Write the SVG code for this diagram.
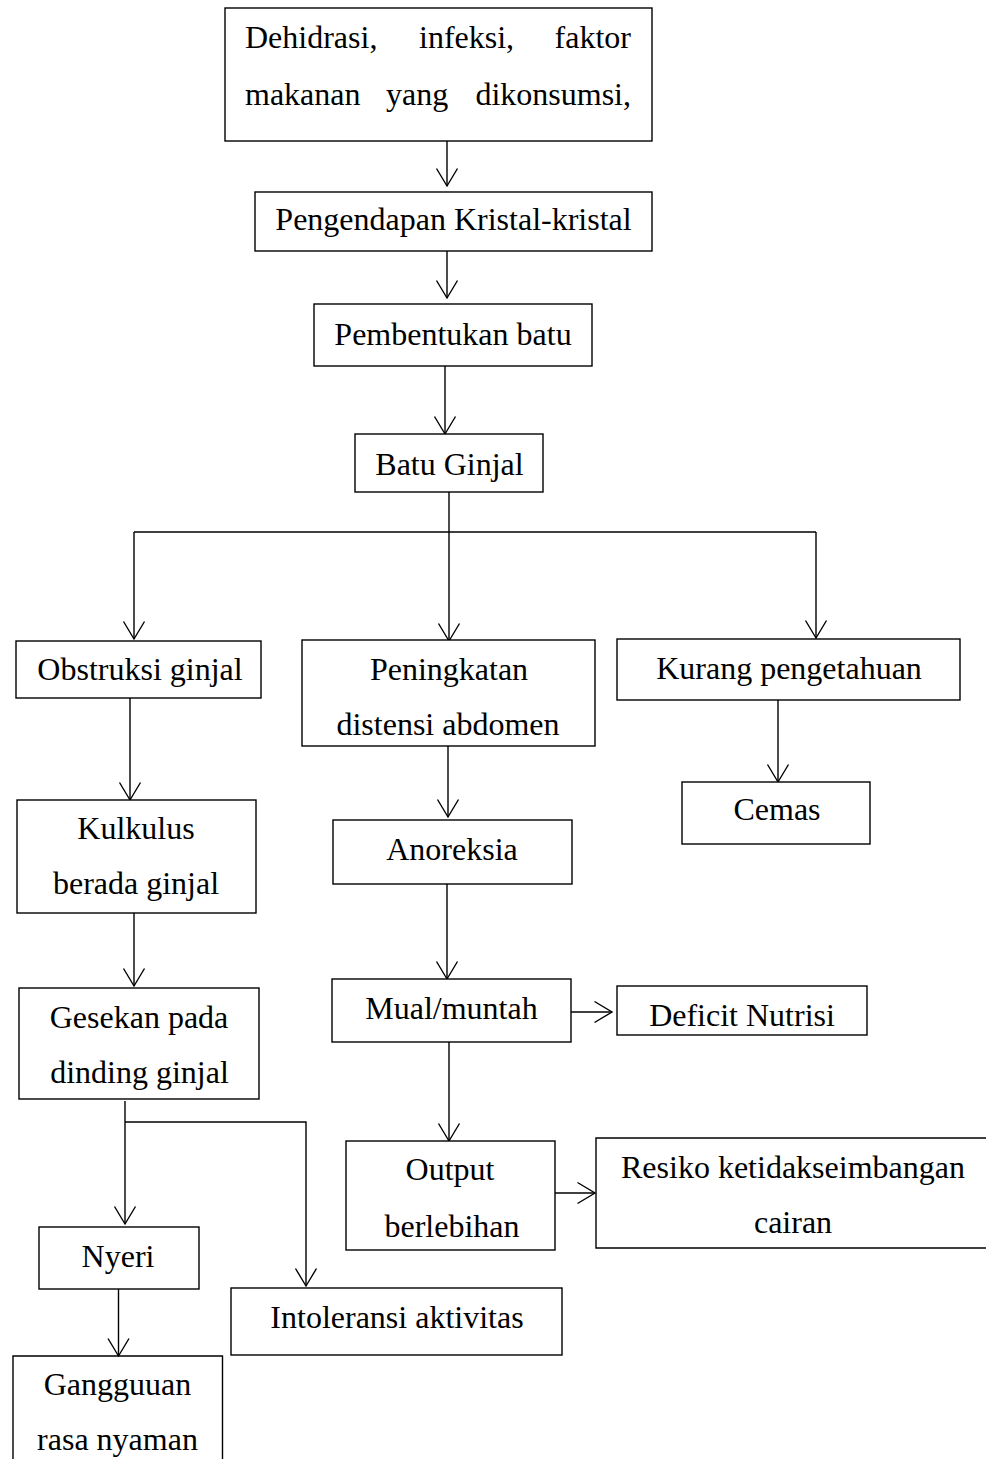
<svg xmlns="http://www.w3.org/2000/svg" width="986" height="1459" viewBox="0 0 986 1459">
<style>
.box{fill:#fff;stroke:#000;stroke-width:1.4}
.t{font-family:"Liberation Serif","Times New Roman",serif;font-size:32px;fill:#000}
.c{text-anchor:middle}
.e{text-anchor:end}
.ln{fill:none;stroke:#000;stroke-width:1.4}
</style>
<defs>
<marker id="ah" markerUnits="userSpaceOnUse" markerWidth="22" markerHeight="24" viewBox="0 0 22 24" refX="19" refY="12" orient="auto" overflow="visible">
<path d="M1.5,1.5 L19,12 L1.5,22.5" fill="none" stroke="#000" stroke-width="1.4"/>
</marker>
</defs>
<rect width="986" height="1459" fill="#fff"/>
<g id="connectors">
<path class="ln" d="M447,141 V186" marker-end="url(#ah)"/>
<path class="ln" d="M447,251 V298" marker-end="url(#ah)"/>
<path class="ln" d="M445,366 V434" marker-end="url(#ah)"/>
<path class="ln" d="M449,492 V641" marker-end="url(#ah)"/>
<path class="ln" d="M134,532 H816"/>
<path class="ln" d="M134,532 V639" marker-end="url(#ah)"/>
<path class="ln" d="M816,532 V638" marker-end="url(#ah)"/>
<path class="ln" d="M130,698 V800" marker-end="url(#ah)"/>
<path class="ln" d="M134,913 V986" marker-end="url(#ah)"/>
<path class="ln" d="M125,1101 V1224" marker-end="url(#ah)"/>
<path class="ln" d="M125,1122 H306 V1286" marker-end="url(#ah)"/>
<path class="ln" d="M118.5,1289 V1356" marker-end="url(#ah)"/>
<path class="ln" d="M448,746 V817" marker-end="url(#ah)"/>
<path class="ln" d="M447,884 V979" marker-end="url(#ah)"/>
<path class="ln" d="M571,1012 H612" marker-end="url(#ah)"/>
<path class="ln" d="M449,1042 V1141" marker-end="url(#ah)"/>
<path class="ln" d="M555,1193 H595" marker-end="url(#ah)"/>
<path class="ln" d="M778,700 V782" marker-end="url(#ah)"/>
</g>
<g id="n-penyebab">
<rect class="box" x="225" y="8" width="427" height="133"/>
<text class="t" x="245" y="48">Dehidrasi,</text>
<text class="t" x="419" y="48">infeksi,</text>
<text class="t e" x="631" y="48">faktor</text>
<text class="t" x="245" y="105">makanan</text>
<text class="t" x="386" y="105">yang</text>
<text class="t e" x="631" y="105">dikonsumsi,</text>
</g>
<g id="n-pengendapan">
<rect class="box" x="255" y="192" width="397" height="59"/>
<text class="t c" x="453.5" y="230">Pengendapan Kristal-kristal</text>
</g>
<g id="n-pembentukan">
<rect class="box" x="314" y="304" width="278" height="62"/>
<text class="t c" x="453" y="345">Pembentukan batu</text>
</g>
<g id="n-batu">
<rect class="box" x="355" y="434" width="188" height="58"/>
<text class="t c" x="449.5" y="475">Batu Ginjal</text>
</g>
<g id="n-obstruksi">
<rect class="box" x="16" y="641" width="245" height="57"/>
<text class="t c" x="140" y="680">Obstruksi ginjal</text>
</g>
<g id="n-peningkatan">
<rect class="box" x="302" y="640" width="293" height="106"/>
<text class="t c" x="449" y="680">Peningkatan</text>
<text class="t c" x="448" y="735">distensi abdomen</text>
</g>
<g id="n-kurang">
<rect class="box" x="617" y="639" width="343" height="61"/>
<text class="t c" x="789" y="679">Kurang pengetahuan</text>
</g>
<g id="n-kulkulus">
<rect class="box" x="17" y="800" width="239" height="113"/>
<text class="t c" x="136" y="839">Kulkulus</text>
<text class="t c" x="136" y="894">berada ginjal</text>
</g>
<g id="n-gesekan">
<rect class="box" x="19" y="988" width="240" height="111"/>
<text class="t c" x="139" y="1028">Gesekan pada</text>
<text class="t c" x="139.5" y="1083">dinding ginjal</text>
</g>
<g id="n-anoreksia">
<rect class="box" x="333" y="820" width="239" height="64"/>
<text class="t c" x="452" y="860">Anoreksia</text>
</g>
<g id="n-cemas">
<rect class="box" x="682" y="782" width="188" height="62"/>
<text class="t c" x="777" y="820">Cemas</text>
</g>
<g id="n-mual">
<rect class="box" x="332" y="979" width="239" height="63"/>
<text class="t c" x="451.5" y="1019">Mual/muntah</text>
</g>
<g id="n-deficit">
<rect class="box" x="617" y="986" width="250" height="49"/>
<text class="t c" x="742" y="1026">Deficit Nutrisi</text>
</g>
<g id="n-output">
<rect class="box" x="346" y="1141" width="209" height="109"/>
<text class="t c" x="450" y="1180">Output</text>
<text class="t c" x="452" y="1237">berlebihan</text>
</g>
<g id="n-resiko">
<path class="ln" d="M990,1138 H596 V1248 H990"/>
<text class="t" x="621" y="1178">Resiko ketidakseimbangan</text>
<text class="t c" x="793" y="1233">cairan</text>
</g>
<g id="n-nyeri">
<rect class="box" x="39" y="1227" width="160" height="62"/>
<text class="t c" x="118" y="1267">Nyeri</text>
</g>
<g id="n-intoleransi">
<rect class="box" x="231" y="1288" width="331" height="67"/>
<text class="t c" x="397" y="1328">Intoleransi aktivitas</text>
</g>
<g id="n-gangguan">
<path class="ln" d="M13,1470 V1356 H222.5 V1470"/>
<text class="t c" x="117.5" y="1395">Gangguuan</text>
<text class="t c" x="117.5" y="1450">rasa nyaman</text>
</g>
</svg>
